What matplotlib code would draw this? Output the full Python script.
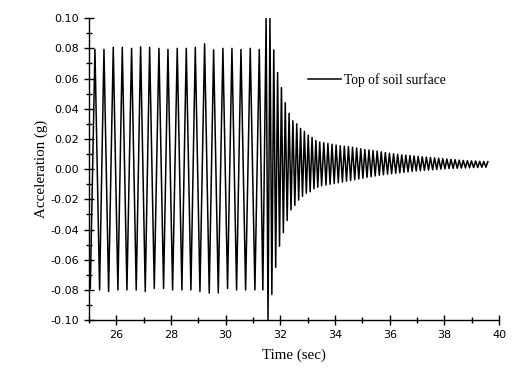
import numpy as np
from matplotlib import pyplot as plt
from matplotlib.ticker import MultipleLocator, FuncFormatter

#--------------
# extremes: forced part (about 3 Hz) then free decay

forced_peak_t = [25.22, 25.55, 25.89, 26.22, 26.56, 26.89, 27.22, 27.56, 27.89, 28.23,
                 28.56, 28.89, 29.23, 29.56, 29.90, 30.23, 30.56, 30.90, 31.23]
forced_peak_a = [0.0793, 0.0793, 0.0807, 0.0807, 0.0800, 0.0810, 0.0807, 0.0800, 0.0793, 0.0800,
                 0.0800, 0.0807, 0.0830, 0.0790, 0.0800, 0.0800, 0.0793, 0.0800, 0.0793]
forced_trough_t = [25.05, 25.39, 25.72, 26.06, 26.39, 26.73, 27.06, 27.39, 27.73, 28.06,
                   28.40, 28.73, 29.06, 29.40, 29.73, 30.07, 30.40, 30.73, 31.07, 31.36]
forced_trough_a = [-0.0790, -0.0800, -0.0810, -0.0800, -0.0800, -0.0800, -0.0810, -0.0790, -0.0790, -0.0800,
                   -0.0800, -0.0800, -0.0810, -0.0820, -0.0820, -0.0790, -0.0800, -0.0800, -0.0800, -0.0800]

decay_peak_t = [31.48, 31.62, 31.76, 31.90, 32.04, 32.18, 32.32, 32.46, 32.60, 32.74,
                32.88, 33.02, 33.16, 33.30, 33.44, 33.59, 33.74, 33.89, 34.04, 34.19,
                34.34, 34.49, 34.64, 34.79, 34.94, 35.09, 35.24, 35.39, 35.54, 35.69,
                35.84, 35.99, 36.14, 36.29, 36.44, 36.59, 36.74, 36.89, 37.04, 37.19,
                37.34, 37.49, 37.64, 37.79, 37.94, 38.09, 38.24, 38.39, 38.54, 38.69,
                38.84, 38.99, 39.14, 39.29, 39.44, 39.59]
decay_peak_a = [0.100, 0.100, 0.079, 0.064, 0.054, 0.044, 0.037, 0.032, 0.030, 0.027,
                0.025, 0.0225, 0.021, 0.019, 0.018, 0.0175, 0.017, 0.0165, 0.016, 0.0155,
                0.0152, 0.015, 0.0145, 0.014, 0.0135, 0.013, 0.0127, 0.0123, 0.012, 0.0115,
                0.011, 0.0105, 0.0102, 0.0098, 0.0095, 0.0092, 0.009, 0.0087, 0.0085, 0.0082,
                0.008, 0.0077, 0.0075, 0.0072, 0.007, 0.0067, 0.0065, 0.0063, 0.006, 0.0058,
                0.0056, 0.0055, 0.0054, 0.0052, 0.0051, 0.005]
decay_trough_t = [31.55, 31.69, 31.83, 31.97, 32.11, 32.25, 32.39, 32.53, 32.67, 32.81,
                  32.95, 33.09, 33.23, 33.37, 33.51, 33.67, 33.82, 33.97, 34.12, 34.27,
                  34.42, 34.57, 34.72, 34.87, 35.02, 35.17, 35.32, 35.47, 35.62, 35.77,
                  35.92, 36.07, 36.22, 36.37, 36.52, 36.67, 36.82, 36.97, 37.12, 37.27,
                  37.42, 37.57, 37.72, 37.87, 38.02, 38.17, 38.32, 38.47, 38.62, 38.77,
                  38.92, 39.07, 39.22, 39.37, 39.52]
decay_trough_a = [-0.100, -0.083, -0.065, -0.051, -0.042, -0.034, -0.027, -0.024, -0.0205, -0.018,
                  -0.016, -0.015, -0.013, -0.012, -0.011, -0.0105, -0.010, -0.0095, -0.009, -0.0085,
                  -0.008, -0.0075, -0.007, -0.0065, -0.006, -0.0055, -0.005, -0.0045, -0.004, -0.0037,
                  -0.0033, -0.003, -0.0027, -0.0024, -0.0021, -0.0018, -0.0015, -0.0012, -0.001, -0.0008,
                  -0.0006, -0.0004, -0.0002, 0.0, 0.0002, 0.0004, 0.0005, 0.0006, 0.0007, 0.0008,
                  0.0009, 0.001, 0.0011, 0.0012, 0.0013]

# merge all extremes into one time-ordered trace
t_all = np.array(forced_peak_t + forced_trough_t + decay_peak_t + decay_trough_t)
a_all = np.array(forced_peak_a + forced_trough_a + decay_peak_a + decay_trough_a)
order = np.argsort(t_all)
t_all, a_all = t_all[order], a_all[order]

#--------------

fig = plt.figure(figsize=(5.14, 3.78), dpi=100)
ax = fig.add_axes([0.173, 0.153, 0.798, 0.799])
ax.plot(t_all, a_all, c='k', lw=1.1, label='Top of soil surface')

ax.set_xlim(25, 40)
ax.set_ylim(-0.10, 0.10)
ax.set_xticks(np.arange(26, 41, 2))
ax.xaxis.set_minor_locator(MultipleLocator(1))
ax.yaxis.set_major_locator(MultipleLocator(0.02))
ax.yaxis.set_minor_locator(MultipleLocator(0.01))
ax.yaxis.set_major_formatter(FuncFormatter(lambda v, p: f'{round(v, 2) + 0:.2f}')) #avoid -0.00

for s in ['top', 'right']:
    ax.spines[s].set_visible(False)
for s in ['left', 'bottom']:
    ax.spines[s].set_linewidth(1.0)
ax.tick_params(which='major', direction='inout', length=7, width=1.0)
ax.tick_params(which='minor', direction='inout', length=5, width=1.0)
for lab in ax.get_xticklabels() + ax.get_yticklabels():
    lab.set_family('DejaVu Sans')
    lab.set_fontsize(8)

ax.set_xlabel('Time (sec)', family='Liberation Serif', fontsize=10.8, labelpad=6)
ax.set_ylabel('Acceleration (g)', family='Liberation Serif', fontsize=10.8, labelpad=2)

ax.legend(loc='center left', bbox_to_anchor=(0.535, 0.795), frameon=False,
          borderpad=0, borderaxespad=0, handlelength=2.4, handletextpad=0.2,
          prop={'family': 'Liberation Serif', 'size': 9.8})

plt.savefig('out.png', dpi=100)
